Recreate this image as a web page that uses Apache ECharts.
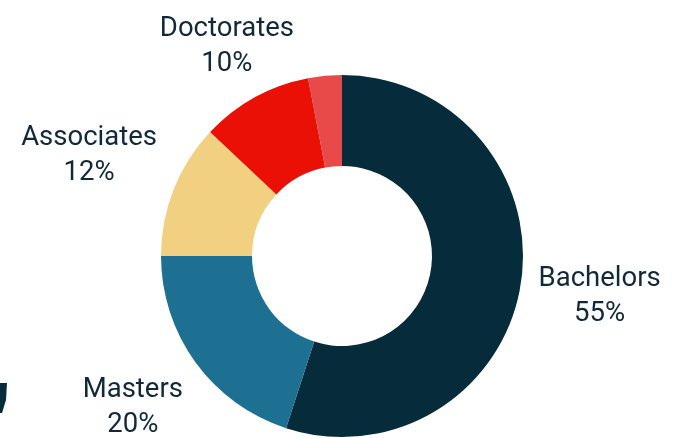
<!DOCTYPE html>
<html><head><meta charset="utf-8">
<script src="https://cdn.jsdelivr.net/npm/echarts@6/dist/echarts.min.js"></script>
<style>html,body{margin:0;padding:0;background:#fff}#c{width:685px;height:438px}</style>
</head><body><div id="c"></div>
<script>
const categories = ['Bachelors', 'Masters', 'Associates', 'Doctorates', 'Other'];
const values = [55, 20, 12, 10, 3];
const colors = ['#062b3b', '#1e7093', '#f2d081', '#ea1006', '#e84a4a'];
const showLabel = [true, true, true, true, false];

const CX = 342, CY = 256, R_IN = 90, R_OUT = 181, GAP = 18;
const total = values.reduce((a, b) => a + b, 0);
const mids = [];
let cum = 0;
values.forEach(v => { mids.push((cum + v / 2) / total); cum += v; });

const chart = echarts.init(document.getElementById('c'), null, {renderer: 'canvas'});
chart.setOption({
  animation: false,
  backgroundColor: '#ffffff',
  graphic: [{
    type: 'polygon',
    shape: {points: [[0, 383], [7, 383], [6, 400], [2, 413], [0, 413]]},
    style: {fill: '#062b3b'}
  }],
  series: [{
    type: 'pie',
    center: [CX, CY],
    radius: [R_IN, R_OUT],
    startAngle: 90,
    clockwise: true,
    avoidLabelOverlap: false,
    labelLine: {show: false},
    label: {
      position: 'outside',
      formatter: '{b}\n{c}%',
      fontFamily: 'Roboto',
      fontSize: 27.5,
      lineHeight: 35,
      color: '#10293a'
    },
    labelLayout: function (p) {
      const f = mids[p.dataIndex];
      const ux = Math.sin(2 * Math.PI * f), uy = -Math.cos(2 * Math.PI * f);
      const w = p.labelRect.width / 2, h = p.labelRect.height / 2;
      const ext = Math.min(Math.abs(ux) > 1e-6 ? w / Math.abs(ux) : 1e9, Math.abs(uy) > 1e-6 ? h / Math.abs(uy) : 1e9);
      const d = R_OUT + GAP + ext;
      return {x: CX + d * ux, y: CY + d * uy, align: 'center', verticalAlign: 'middle'};
    },
    data: categories.map((c, i) => ({
      name: c, value: values[i],
      itemStyle: {color: colors[i]},
      label: {show: showLabel[i]}
    }))
  }]
});
</script></body></html>
